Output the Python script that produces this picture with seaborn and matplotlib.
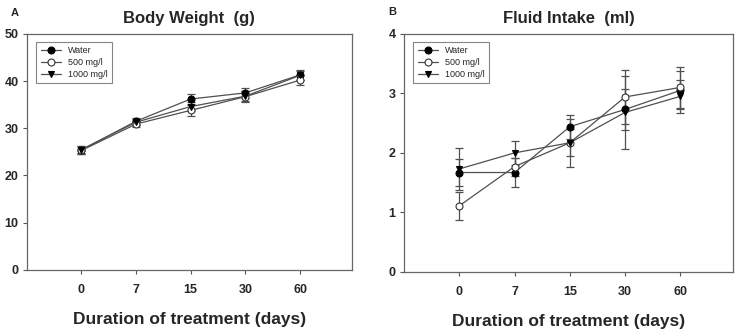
import numpy as np
import pandas as pd
import matplotlib
matplotlib.use('Agg')
import matplotlib.pyplot as plt
import seaborn as sns

# days of treatment (shown as evenly spaced categories)
days = ['0', '7', '15', '30', '60']
groups = ['Water', '500 mg/l', '1000 mg/l']

# body weight (g), mean and error
bw_water = [25.4, 31.5, 36.2, 37.5, 41.3]
bw_500 = [25.3, 30.9, 33.8, 36.7, 40.2]
bw_1000 = [25.5, 31.3, 34.6, 36.8, 41.2]
bw_err_water = [0.8, 0.7, 1.0, 1.0, 1.0]
bw_err_500 = [0.8, 0.7, 1.1, 1.1, 1.1]
bw_err_1000 = [0.8, 0.7, 1.0, 1.0, 1.0]

# fluid intake (ml), mean and error
fi_water = [1.67, 1.67, 2.44, 2.73, 3.05]
fi_500 = [1.11, 1.77, 2.17, 2.94, 3.10]
fi_1000 = [1.73, 2.00, 2.17, 2.68, 2.95]
fi_err_water = [0.22, 0.25, 0.20, 0.35, 0.32]
fi_err_500 = [0.24, 0.15, 0.23, 0.46, 0.35]
fi_err_1000 = [0.35, 0.20, 0.40, 0.62, 0.28]

sns.set_style('white')
plt.rcParams['font.family'] = ['Liberation Sans', 'DejaVu Sans']

style = {
    'Water': dict(marker='o', mfc='black', mec='black'),
    '500 mg/l': dict(marker='o', mfc='white', mec='#333333'),
    '1000 mg/l': dict(marker='v', mfc='black', mec='black'),
}


def panel(ax, means, errs, ylim, yticks, title, letter):
    x = np.arange(len(days))
    for g, m, e in zip(groups, means, errs):
        df = pd.DataFrame({'x': x, 'y': m})
        ax.errorbar(x, m, yerr=e, fmt='none', ecolor='#505050', elinewidth=0.9,
                    capsize=3, capthick=0.9, zorder=2)
        sns.lineplot(data=df, x='x', y='y', ax=ax, color='#505050', lw=0.9,
                     markersize=5, mew=0.8, label=g, zorder=3, **style[g])
    ax.set_xlim(-1, 4.95)
    ax.set_ylim(*ylim)
    ax.set_xticks(x)
    ax.set_xticklabels(days)
    ax.set_yticks(yticks)
    for lab in ax.get_xticklabels() + ax.get_yticklabels():
        lab.set_fontweight('bold')
        lab.set_fontsize(9)
    ax.tick_params(axis='both', direction='out', length=3, width=0.8,
                   color='#555555', bottom=True, left=True)
    ax.tick_params(axis='x', pad=7)
    ax.tick_params(axis='y', pad=3)
    for s in ax.spines.values():
        s.set_color('#666666')
        s.set_linewidth(0.9)
    ax.set_xlabel('Duration of treatment (days)', fontsize=12.5, fontweight='bold',
                  labelpad=12)
    ax.set_ylabel('')
    ax.set_title(title, fontsize=12, fontweight='bold', pad=8)
    ax.text(-0.025, 1.09, letter, transform=ax.transAxes, fontsize=8,
            fontweight='bold', ha='right', va='center')
    leg = ax.legend(loc='upper left', fontsize=6.5, frameon=True, fancybox=False,
                    handlelength=2.2, borderpad=0.5, labelspacing=0.3,
                    bbox_to_anchor=(0.015, 0.985))
    leg.get_frame().set_edgecolor('#666666')
    leg.get_frame().set_linewidth(0.8)


fig = plt.figure(figsize=(7.44, 3.32), dpi=100)
ax1 = fig.add_axes([0.036, 0.187, 0.437, 0.711])
ax2 = fig.add_axes([0.543, 0.181, 0.442, 0.717])

panel(ax1, [bw_water, bw_500, bw_1000], [bw_err_water, bw_err_500, bw_err_1000],
      (0, 50), [0, 10, 20, 30, 40, 50], 'Body Weight  (g)', 'A')
panel(ax2, [fi_water, fi_500, fi_1000], [fi_err_water, fi_err_500, fi_err_1000],
      (0, 4), [0, 1, 2, 3, 4], 'Fluid Intake  (ml)', 'B')

fig.savefig('out.png', dpi=100)
